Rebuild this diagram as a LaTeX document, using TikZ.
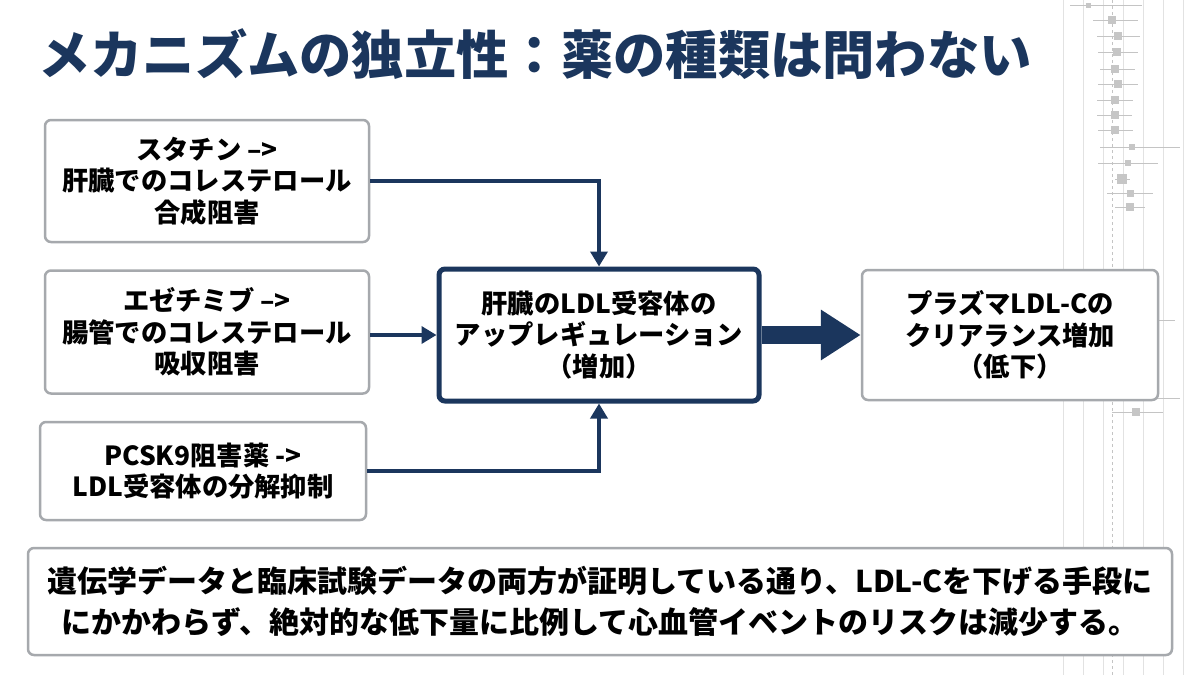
\documentclass[tikz,border=0pt]{standalone}
\usepackage{fontspec}
\setmainfont{Noto Sans CJK JP}
\usetikzlibrary{arrows.meta}
\definecolor{navy}{HTML}{1B365D}
\definecolor{boxgrey}{HTML}{A6A9AD}
\definecolor{decoline}{HTML}{C4C4C4}
\definecolor{decosq}{HTML}{C6C6C6}
\definecolor{decogrid}{HTML}{E2E2E2}
\tikzset{
  drugbox/.style={draw=boxgrey, line width=2.5pt, rounded corners=6pt, fill=white,
    align=center, font=\bfseries\fontsize{26.3}{31.5}\selectfont, inner sep=0pt},
  hubbox/.style={draw=navy, line width=5pt, rounded corners=6pt, fill=white,
    align=center, font=\bfseries\fontsize{26.3}{31.5}\selectfont, inner sep=0pt},
  notebox/.style={draw=boxgrey, line width=2.5pt, rounded corners=6pt, fill=white,
    align=center, font=\bfseries\fontsize{30}{41}\selectfont, inner sep=0pt},
  link/.style={draw=navy, line width=3.5pt, -{Triangle[width=17pt,length=15pt]}},
  biglink/.style={draw=navy, line width=18pt, -{Triangle[width=48pt,length=40pt]}},
  titletext/.style={font=\bfseries\fontsize{52.3}{58}\selectfont, text=navy, inner sep=0pt},
  vline/.style={draw=decogrid, line width=0.8pt},
  fline/.style={draw=decoline, line width=0.9pt},
}
\newcommand{\frow}[5]{%
  \draw[fline] (#2,#1) -- (#3,#1);
  \fill[decosq] (#4-#5/2,#1-#5/2) rectangle (#4+#5/2,#1+#5/2);}
\begin{document}
\begin{tikzpicture}[x=1pt,y=-1pt]
\useasboundingbox (0,0) rectangle (1200,675);
\fill[white] (0,0) rectangle (1200,675);
% decorative forest plot
\foreach \xx in {1063,1083,1103,1123,1143,1163,1183}
  \draw[vline] (\xx,0) -- (\xx,675);
\draw[decoline, dashed, line width=0.6pt] (1112,0) -- (1112,675);
\frow{5}{1070}{1142}{1088}{5}
\frow{20}{1093}{1138}{1112}{8}
\frow{36}{1097}{1140}{1118}{8}
\frow{52}{1098}{1138}{1117}{8}
\frow{69}{1100}{1135}{1115}{8}
\frow{84}{1098}{1138}{1118}{8}
\frow{100}{1097}{1133}{1115}{8}
\frow{115}{1097}{1132}{1115}{8}
\frow{130}{1098}{1133}{1115}{8}
\frow{147}{1100}{1180}{1132}{6}
\frow{163}{1098}{1158}{1128}{6}
\frow{179}{1115}{1130}{1122}{10}
\frow{193}{1107}{1153}{1130}{7}
\frow{207}{1115}{1145}{1130}{8}
\frow{320}{1092}{1175}{1130}{6}
\frow{335}{1102}{1142}{1121}{8}
\frow{351}{1113}{1128}{1121}{10}
\frow{368}{1092}{1150}{1118}{8}
\frow{382}{1098}{1147}{1122}{10}
\frow{398}{1112}{1180}{1138}{6}
\frow{412}{1112}{1163}{1136}{8}
% title
\node[titletext, anchor=base west] (title) at (38,74) {メカニズムの独立性：薬の種類は問わない};
% boxes
\node[drugbox, minimum width=324pt, minimum height=122pt] (statin) at (207,181)
  {スタチン –>\\肝臓でのコレステロール\\合成阻害};
\node[drugbox, minimum width=324pt, minimum height=123pt] (ezet) at (207,332)
  {エゼチミブ –>\\腸管でのコレステロール\\吸収阻害};
\node[drugbox, minimum width=326pt, minimum height=98pt] (pcsk) at (203,471)
  {PCSK9阻害薬 ->\\LDL受容体の分解抑制};
\node[hubbox, minimum width=320pt, minimum height=132pt] (hub) at (599,335)
  {肝臓のLDL受容体の\\アップレギュレーション\\（増加）};
\node[drugbox, minimum width=296pt, minimum height=130pt] (result) at (1010,335)
  {プラズマLDL-Cの\\クリアランス増加\\（低下）};
\node[notebox, minimum width=1144pt, minimum height=107pt] (note) at (600,601.5)
  {遺伝学データと臨床試験データの両方が証明している通り、LDL-Cを下げる手段に\\にかかわらず、絶対的な低下量に比例して心血管イベントのリスクは減少する。};
% connectors
\draw[link] (statin.east) -| (hub.north);
\draw[link] (ezet.east |- hub.west) -- (hub.west);
\draw[link] (pcsk.east) -| (hub.south);
\draw[biglink] (hub.east) -- (result.west);
\end{tikzpicture}
\end{document}
